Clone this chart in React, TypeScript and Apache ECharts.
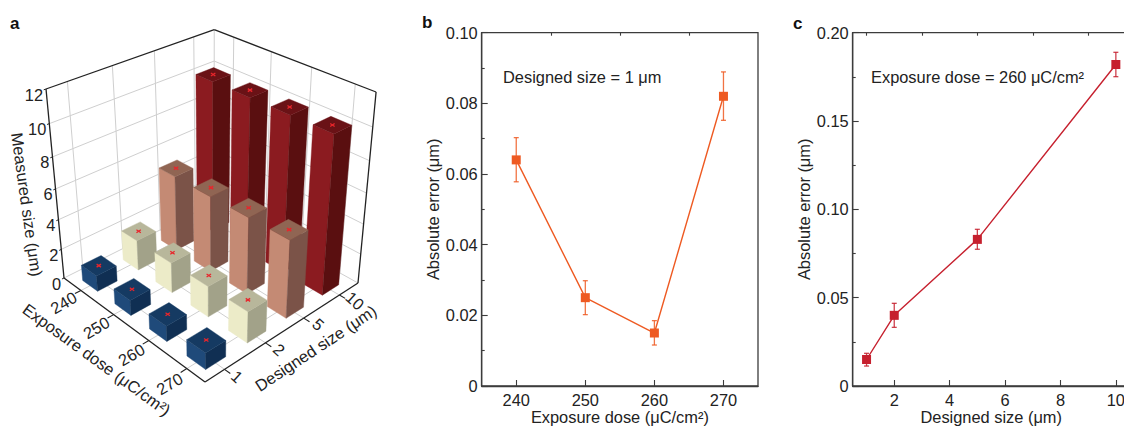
import React, { useEffect, useRef } from "react";
import * as echarts from "echarts";

// ---------- data ----------
const doseLabels = ["240", "250", "260", "270"];
const sizeLabels = ["1", "2", "5", "10"];
const heightTicks = [0, 2, 4, 6, 8, 10, 12];
const measuredSize1 = [1.064, 1.025, 1.015, 1.082];
const measuredSize2 = [2.05, 2.03, 2.04, 2.06];
const measuredSize5 = [5.1, 5.07, 5.083, 5.09];
const measuredSize10 = [10.15, 10.17, 10.182, 10.2];
const measuredBySize = [measuredSize1, measuredSize2, measuredSize5, measuredSize10];

const doseX = [240, 250, 260, 270];
const doseErr = [0.064, 0.025, 0.015, 0.082];
const doseErrLow = [0.0578, 0.0202, 0.0116, 0.0752];
const doseErrHigh = [0.0703, 0.0298, 0.0185, 0.0889];

const sizeX = [1, 2, 5, 10];
const sizeErr = [0.015, 0.04, 0.083, 0.182];
const sizeErrLow = [0.0113, 0.0332, 0.0774, 0.1751];
const sizeErrHigh = [0.0185, 0.0468, 0.0887, 0.1889];

// ---------- style ----------
const FONT = "Liberation Sans";
const FS = 16.4;
const TEXT = "#222222";
const AXIS = "#3c3c3c";
const ORANGE = "#ee5a22";
const RED = "#c6202e";
const faces = [
  { left: "#1f4a7a", right: "#102f53", top: "#153a62" },
  { left: "#ecebc8", right: "#a2a289", top: "#b8b79b" },
  { left: "#c48a74", right: "#7b5348", top: "#906553" },
  { left: "#8b1b20", right: "#5a0f10", top: "#6a1216" },
];

// ---------- perspective of panel a ----------
const P0 = [64, 278], P1 = [205, 382], P2 = [358, 283], P3 = [214, 203];
const VP = [211.6, 1829];
const TOP_Y = 89;
const dx1 = P1[0] - P2[0], dx2 = P3[0] - P2[0], sx = P0[0] - P1[0] + P2[0] - P3[0];
const dy1 = P1[1] - P2[1], dy2 = P3[1] - P2[1], sy = P0[1] - P1[1] + P2[1] - P3[1];
const den0 = dx1 * dy2 - dx2 * dy1;
const hg = (sx * dy2 - dx2 * sy) / den0;
const hh = (dx1 * sy - sx * dy1) / den0;
const ha = P1[0] - P0[0] + hg * P1[0], hb = P3[0] - P0[0] + hh * P3[0], hc = P0[0];
const hd = P1[1] - P0[1] + hg * P1[1], he = P3[1] - P0[1] + hh * P3[1], hf = P0[1];
const hk = (TOP_Y - P0[1]) / (VP[1] - TOP_Y);
const HMAX = 12;

function project(u: number, v: number, h: number): number[] {
  const z = (hk * h) / HMAX;
  const w = hg * u + hh * v + 1 + z;
  return [(ha * u + hb * v + hc + z * VP[0]) / w, (hd * u + he * v + hf + z * VP[1]) / w];
}
const centerU = (i: number) => (i + 0.5) / 4 + 0.012;
const centerV = (i: number) => (i + 0.5) / 4 - 0.012;
const BAR = 0.059;

const barData: number[][] = [];
for (let d = 0; d < doseLabels.length; d++) {
  for (let s = sizeLabels.length - 1; s >= 0; s--) barData.push([d, s, measuredBySize[s][d]]);
}

function renderBar(_: any, api: any) {
  const d = api.value(0), s = api.value(1), val = api.value(2);
  const u = centerU(d), v = centerV(s);
  const pt = (a: number, b: number, h: number) => api.coord(project(a, b, h));
  const u0 = u - BAR, u1 = u + BAR, v0 = v - BAR, v1 = v + BAR;
  const f = faces[s];
  const poly = (points: number[][], fill: string) => ({
    type: "polygon",
    shape: { points },
    style: { fill, stroke: fill, lineWidth: 0.4 },
  });
  const c = pt(u, v, val);
  const mk = (ax: number, ay: number, bx: number, by: number) => ({
    type: "line",
    shape: { x1: c[0] + ax, y1: c[1] + ay, x2: c[0] + bx, y2: c[1] + by },
    style: { stroke: "#e8262c", lineWidth: 1.3 },
  });
  return {
    type: "group",
    children: [
      poly([pt(u0, v0, 0), pt(u1, v0, 0), pt(u1, v0, val), pt(u0, v0, val)], f.left),
      poly([pt(u1, v0, 0), pt(u1, v1, 0), pt(u1, v1, val), pt(u1, v0, val)], f.right),
      poly([pt(u0, v0, val), pt(u1, v0, val), pt(u1, v1, val), pt(u0, v1, val)], f.top),
      mk(-2.2, -1.5, 2.2, 1.5),
      mk(-2.2, 1.5, 2.2, -1.5),
    ],
  };
}

function renderFrame(_: any, api: any) {
  const pt = (a: number, b: number, h: number) => api.coord(project(a, b, h));
  const children: any[] = [];
  const seg = (p: number[], q: number[], stroke: string, lineWidth: number) =>
    children.push({
      type: "line",
      shape: { x1: p[0], y1: p[1], x2: q[0], y2: q[1] },
      style: { stroke, lineWidth },
    });
  const GRID = "#cfcfcf";
  heightTicks.slice(1, -1).forEach((h) => {
    seg(pt(0, 0, h), pt(0, 1, h), GRID, 1);
    seg(pt(0, 1, h), pt(1, 1, h), GRID, 1);
  });
  for (let i = 0; i < 4; i++) {
    const tu = centerU(i), tv = centerV(i);
    seg(pt(0, tv, 0), pt(0, tv, HMAX), GRID, 1);
    seg(pt(tu, 1, 0), pt(tu, 1, HMAX), GRID, 1);
    seg(pt(tu, 0, 0), pt(tu, 1, 0), GRID, 1);
    seg(pt(0, tv, 0), pt(1, tv, 0), GRID, 1);
  }
  seg(pt(0, 1, 0), pt(0, 1, HMAX), GRID, 1);
  seg(pt(0, 1, 0), pt(0, 0, 0), GRID, 1);
  seg(pt(0, 1, 0), pt(1, 1, 0), GRID, 1);
  const BLACK = "#222222";
  seg(pt(0, 0, 0), pt(0, 0, HMAX), BLACK, 1.3);
  seg(pt(1, 1, 0), pt(1, 1, HMAX), BLACK, 1.3);
  seg(pt(0, 0, HMAX), pt(0, 1, HMAX), BLACK, 1.3);
  seg(pt(0, 1, HMAX), pt(1, 1, HMAX), BLACK, 1.3);
  seg(pt(0, 0, 0), pt(1, 0, 0), BLACK, 1.3);
  seg(pt(1, 0, 0), pt(1, 1, 0), BLACK, 1.3);
  for (let i = 0; i < 4; i++) {
    seg(pt(centerU(i), 0, 0), pt(centerU(i), -0.035, 0), BLACK, 1.1);
    seg(pt(1, centerV(i), 0), pt(1.035, centerV(i), 0), BLACK, 1.1);
  }
  heightTicks.forEach((h) => seg(pt(0, 0, h), pt(0, -0.012, h), BLACK, 1));
  return { type: "group", children };
}

function renderAxisText(_: any, api: any) {
  const pt = (a: number, b: number, h: number) => api.coord(project(a, b, h));
  const children: any[] = [];
  const txt = (text: string, p: number[], deg: number, align = "center") =>
    children.push({
      type: "text",
      x: p[0],
      y: p[1],
      rotation: (deg * Math.PI) / 180,
      style: {
        text,
        fill: TEXT,
        font: `${FS}px "${FONT}"`,
        align,
        verticalAlign: "middle",
      },
    });
  doseLabels.forEach((t, i) => {
    txt(t, pt(centerU(i) + 0.02, -0.115, 0), 30);
  });
  sizeLabels.forEach((t, i) => {
    const p = pt(1.07, centerV(i), 0);
    txt(t, [p[0] + 1 + i, p[1] - 1], -42);
  });
  heightTicks.forEach((h) => {
    const p = pt(0, 0, h);
    txt(String(h), [p[0] - 3, p[1] + 5.5], 0, "right");
  });
  const ex = pt(0.56, -0.245, 0);
  txt("Exposure dose (μC/cm²)", [ex[0] + 3, ex[1] + 2], -36);
  const de = pt(1.205, 0.52, 0);
  txt("Designed size (μm)", [de[0] - 9, de[1] - 1], 33.5);
  const me = pt(0, 0, 5);
  txt("Measured size (μm)", [me[0] - 30, me[1]], -82);
  return { type: "group", children };
}

function errorRenderer(color: string) {
  return (_: any, api: any) => {
    const x = api.value(0);
    const lo = api.coord([x, api.value(1)]);
    const hi = api.coord([x, api.value(2)]);
    const style = { stroke: color, lineWidth: 1.3, opacity: 0.85 };
    const line = (x1: number, y1: number, x2: number, y2: number) => ({
      type: "line",
      shape: { x1, y1, x2, y2 },
      style,
    });
    return {
      type: "group",
      children: [
        line(lo[0], lo[1], hi[0], hi[1]),
        line(lo[0] - 2.5, lo[1], lo[0] + 2.5, lo[1]),
        line(hi[0] - 2.5, hi[1], hi[0] + 2.5, hi[1]),
      ],
    };
  };
}

const tickFmt = (v: number) => (v === 0 ? "0" : v.toFixed(2));

function mainX(gridIndex: number, min: number, max: number, name: string, values: number[], ticks: number[]) {
  return {
    type: "value",
    gridIndex,
    min,
    max,
    name,
    nameLocation: "middle",
    nameGap: 23,
    nameMoveOverlap: false,
    nameTextStyle: { fontFamily: FONT, fontSize: FS, color: TEXT },
    splitLine: { show: false },
    axisLine: { show: true, lineStyle: { color: AXIS, width: 1.3 } },
    axisTick: { show: true, inside: true, length: 6, customValues: ticks, lineStyle: { color: AXIS, width: 1.1 } },
    axisLabel: { show: true, customValues: values, margin: 6, fontFamily: FONT, fontSize: FS, color: TEXT, hideOverlap: false, showMinLabel: true, showMaxLabel: true },
  };
}
function minorX(gridIndex: number, min: number, max: number, ticks: number[]) {
  return {
    type: "value",
    gridIndex,
    min,
    max,
    splitLine: { show: false },
    axisLine: { show: false },
    axisLabel: { show: false },
    axisTick: { show: true, inside: true, length: 3, customValues: ticks, lineStyle: { color: AXIS, width: 1.1 } },
  };
}
function mainY(gridIndex: number, max: number, interval: number) {
  return {
    type: "value",
    gridIndex,
    min: 0,
    max,
    interval,
    name: "Absolute error (μm)",
    nameLocation: "middle",
    nameGap: 41,
    nameMoveOverlap: false,
    nameTextStyle: { fontFamily: FONT, fontSize: FS, color: TEXT },
    splitLine: { show: false },
    minorSplitLine: { show: false },
    minorTick: { show: true, splitNumber: 2, length: 3, lineStyle: { color: AXIS, width: 1.1 } },
    axisLine: { show: true, lineStyle: { color: AXIS, width: 1.3 } },
    axisTick: { show: true, inside: true, length: 6, lineStyle: { color: AXIS, width: 1.1 } },
    axisLabel: { margin: 4, fontFamily: FONT, fontSize: FS, color: TEXT, formatter: tickFmt },
  };
}

function lineSeries(x: number, y: number, xs: number[], ys: number[], color: string) {
  return {
    type: "line",
    xAxisIndex: x,
    yAxisIndex: y,
    data: xs.map((v, i) => [v, ys[i]]),
    symbol: "rect",
    symbolSize: 9,
    showSymbol: true,
    clip: false,
    z: 4,
    lineStyle: { color, width: 1.4 },
    itemStyle: { color },
  };
}
function errorSeries(x: number, y: number, xs: number[], lo: number[], hi: number[], color: string) {
  return {
    type: "custom",
    xAxisIndex: x,
    yAxisIndex: y,
    clip: false,
    z: 3,
    data: xs.map((v, i) => [v, lo[i], hi[i]]),
    encode: { x: 0, y: [1, 2] },
    renderItem: errorRenderer(color),
  };
}

const panelText = (text: string, left: number, top: number, bold: boolean) => ({
  type: "text",
  x: left,
  y: top,
  style: {
    text,
    fill: bold ? "#111111" : TEXT,
    font: `${bold ? "bold 17" : FS}px "${FONT}"`,
    align: "left",
    verticalAlign: "middle",
  },
});

export default function App() {
  const ref = useRef<HTMLDivElement>(null);
  useEffect(() => {
    const chart = echarts.init(ref.current!, undefined, { renderer: "svg" });
    chart.setOption({
      animation: false,
      backgroundColor: "#ffffff",
      grid: [
        { left: 0, top: 0, width: 1124, height: 426, show: false, outerBoundsMode: "none" },
        { left: 481.7, top: 32.7, width: 276.3, height: 353.3, show: true, borderColor: AXIS, borderWidth: 1.3, backgroundColor: "transparent", outerBoundsMode: "none" },
        { left: 852.7, top: 32.7, width: 277, height: 353.3, show: true, borderColor: AXIS, borderWidth: 1.3, backgroundColor: "transparent", outerBoundsMode: "none" },
      ],
      xAxis: [
        { type: "value", gridIndex: 0, min: 0, max: 1124, show: false },
        mainX(1, 235, 275, "Exposure dose (μC/cm²)", [240, 250, 260, 270], [240, 250, 260, 270]),
        minorX(1, 235, 275, [245, 255, 265]),
        mainX(2, 0.5, 10.5, "Designed size (μm)", [2, 4, 6, 8, 10], [2, 4, 6, 8, 10]),
        minorX(2, 0.5, 10.5, [1, 3, 5, 7, 9]),
      ],
      yAxis: [
        { type: "value", gridIndex: 0, min: 0, max: 426, inverse: true, show: false },
        mainY(1, 0.1, 0.02),
        mainY(2, 0.2, 0.05),
      ],
      series: [
        { type: "custom", xAxisIndex: 0, yAxisIndex: 0, clip: false, z: 1, data: [[0, 0]], renderItem: renderFrame },
        { type: "custom", xAxisIndex: 0, yAxisIndex: 0, clip: false, z: 2, data: barData, encode: { x: 0, y: 1 }, renderItem: renderBar },
        { type: "custom", xAxisIndex: 0, yAxisIndex: 0, clip: false, z: 3, data: [[0, 0]], renderItem: renderAxisText },
        errorSeries(1, 1, doseX, doseErrLow, doseErrHigh, ORANGE),
        lineSeries(1, 1, doseX, doseErr, ORANGE),
        errorSeries(3, 2, sizeX, sizeErrLow, sizeErrHigh, RED),
        lineSeries(3, 2, sizeX, sizeErr, RED),
      ],
      graphic: [
        panelText("a", 10, 23, true),
        panelText("b", 422, 22, true),
        panelText("c", 793, 23, true),
        panelText("Designed size = 1 μm", 503, 77, false),
        panelText("Exposure dose = 260 μC/cm²", 871, 77, false),
      ],
    });
    return () => chart.dispose();
  }, []);
  return <div ref={ref} style={{ position: "fixed", left: 0, top: 0, width: 1124, height: 426 }} />;
}
